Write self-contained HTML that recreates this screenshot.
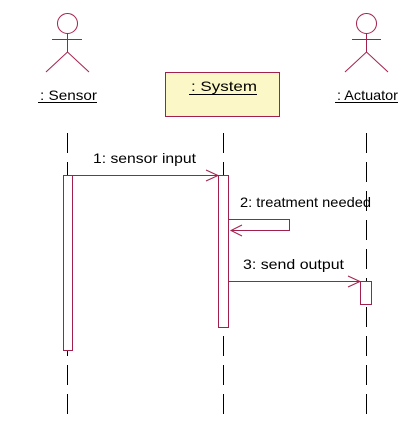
<!DOCTYPE html>
<html><head><style>html,body{margin:0;padding:0;background:#fff}svg{display:block}</style></head><body>
<svg width="408" height="432" xmlns="http://www.w3.org/2000/svg" font-family="Liberation Sans, sans-serif" font-size="14">
<g stroke="#000" stroke-width="1" stroke-dasharray="20,9">
<line x1="67.5" y1="133" x2="67.5" y2="418"/>
<line x1="223.5" y1="133" x2="223.5" y2="418"/>
<line x1="366.5" y1="133" x2="366.5" y2="418"/>
</g>
<g stroke="#a3204c" fill="none" stroke-width="1">
<circle cx="67.5" cy="23.5" r="10"/>
<line x1="67.5" y1="33.5" x2="67.5" y2="52"/><line x1="52" y1="39.5" x2="82" y2="39.5"/>
<polyline points="46,72 67.5,52 89,72"/>
<circle cx="366.5" cy="23.5" r="10"/>
<line x1="366.5" y1="33.5" x2="366.5" y2="52"/><line x1="352" y1="39.5" x2="381" y2="39.5"/>
<polyline points="345,72 366.5,52 388,72"/>
<rect x="165.5" y="72.5" width="114" height="44" fill="#fbf7c6"/>
<rect x="63.5" y="175.5" width="9" height="175" fill="#fff"/>
<rect x="218.5" y="175.5" width="10" height="152" fill="#fff"/>
<rect x="360.5" y="281.5" width="11" height="23" fill="#fff"/>
<line x1="72.5" y1="175.5" x2="218" y2="175.5"/><polyline points="206,170 218,175.5 206,181"/>
<polyline points="229,219.5 289.5,219.5 289.5,230.5 231,230.5"/><polyline points="242,225 231,230.5 242,236"/>
<line x1="228.5" y1="281.5" x2="360" y2="281.5"/><polyline points="348,276 360,281.5 348,287"/>
</g>
<g fill="#000">
<text x="40" y="100" textLength="57" lengthAdjust="spacingAndGlyphs">: Sensor</text><line x1="38" y1="102.5" x2="97" y2="102.5" stroke="#000"/>
<text x="191" y="91" textLength="66" lengthAdjust="spacingAndGlyphs">: System</text><line x1="189" y1="94.5" x2="257" y2="94.5" stroke="#000"/>
<text x="337" y="100" textLength="61" lengthAdjust="spacingAndGlyphs">: Actuator</text><line x1="335" y1="102.5" x2="398" y2="102.5" stroke="#000"/>
<text x="93" y="163" textLength="103" lengthAdjust="spacingAndGlyphs">1: sensor input</text>
<text x="240" y="207" textLength="131" lengthAdjust="spacingAndGlyphs">2: treatment needed</text>
<text x="243" y="269" textLength="101" lengthAdjust="spacingAndGlyphs">3: send output</text>
</g>
</svg>
</body></html>
